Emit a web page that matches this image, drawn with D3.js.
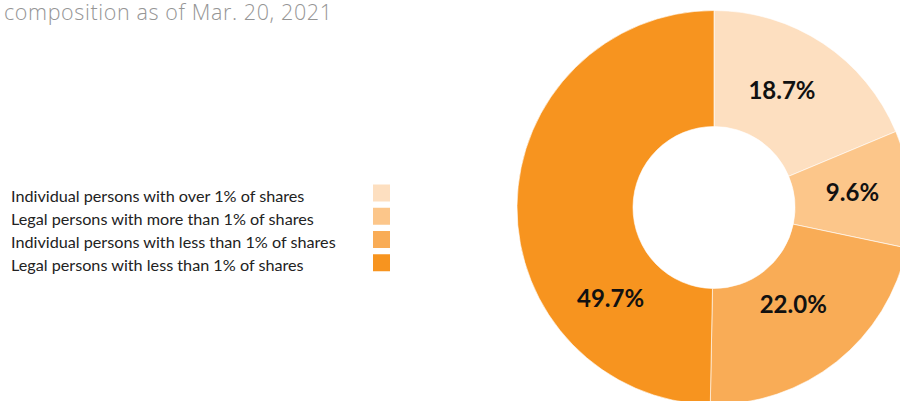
<!DOCTYPE html>
<html>
<head>
<meta charset="utf-8">
<script src="https://cdn.jsdelivr.net/npm/d3@7"></script>
<style>
  html, body { margin: 0; padding: 0; background: #fff; }
  svg { display: block; }
</style>
</head>
<body>
<svg id="chart" width="900" height="401"></svg>
<script>
// Shareholder composition
const categories = [
  "Individual persons with over 1% of shares",
  "Legal persons with more than 1% of shares",
  "Individual persons with less than 1% of shares",
  "Legal persons with less than 1% of shares"
];
const shares = [18.7, 9.6, 22.0, 49.7];
const colors = ["#FDDFC0", "#FCC68A", "#F9AC56", "#F7941F"];
const titleText = "composition as of Mar. 20, 2021";

// Label anchor angle (degrees, clockwise from top) and radius for each slice
const labelAngles = [30.1, 83.7, 140.6, 228.8];
const labelRadii = [135.5, 139.3, 124.9, 137.5];

const svg = d3.select("#chart");

// Title line
svg.append("text")
  .attr("x", 4)
  .attr("y", 20)
  .attr("font-family", "'Open Sans', Lato, sans-serif")
  .attr("font-weight", 300)
  .attr("font-size", 21.5)
  .attr("textLength", 328)
  .attr("lengthAdjust", "spacing")
  .attr("fill", "#959595")
  .text(titleText);

// Donut
const cx = 714, cy = 207.5, outerR = 197, innerR = 81;
const g = svg.append("g").attr("transform", `translate(${cx},${cy})`);

const pie = d3.pie().sort(null).value(d => d);
const arcs = pie(shares);
const arc = d3.arc().innerRadius(innerR).outerRadius(outerR);

g.selectAll("path.slice")
  .data(arcs)
  .join("path")
  .attr("class", "slice")
  .attr("d", arc)
  .attr("fill", (d, i) => colors[i])
  .attr("stroke", "#fff")
  .attr("stroke-width", 0.6);

g.selectAll("text.pct")
  .data(arcs)
  .join("text")
  .attr("class", "pct")
  .attr("x", (d, i) => labelRadii[i] * Math.sin(labelAngles[i] * Math.PI / 180))
  .attr("y", (d, i) => -labelRadii[i] * Math.cos(labelAngles[i] * Math.PI / 180))
  .attr("dy", "0.36em")
  .attr("text-anchor", "middle")
  .attr("font-family", "Lato, sans-serif")
  .attr("font-weight", 700)
  .attr("font-size", 24)
  .attr("fill", "#111")
  .text(d => d.data.toFixed(1) + "%");

// Legend
const legendY = d3.scaleBand().domain(d3.range(categories.length)).range([182.5, 275.5]);
const legend = svg.append("g");
const items = legend.selectAll("g.item")
  .data(categories)
  .join("g")
  .attr("class", "item")
  .attr("transform", (d, i) => `translate(0,${legendY(i)})`);

items.append("rect")
  .attr("x", 373)
  .attr("y", 2)
  .attr("width", 17)
  .attr("height", 17)
  .attr("fill", (d, i) => colors[i]);

items.append("text")
  .attr("x", 11)
  .attr("y", 19)
  .attr("font-family", "Lato, sans-serif")
  .attr("font-size", 16.2)
  .attr("fill", "#222")
  .text(d => d);
</script>
</body>
</html>
